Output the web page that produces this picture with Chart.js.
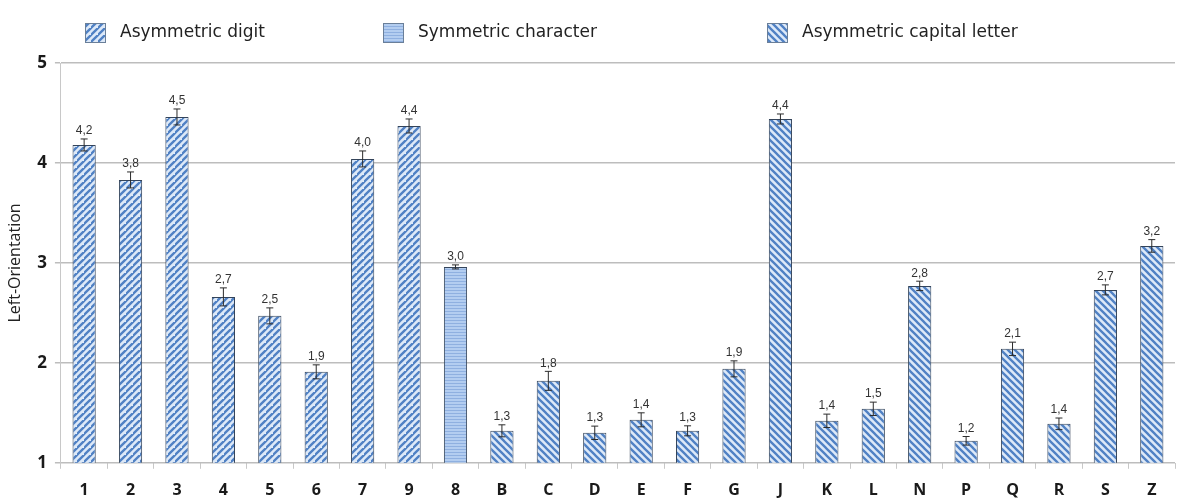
<!DOCTYPE html>
<html>
<head>
<meta charset="utf-8">
<script src="https://cdn.jsdelivr.net/npm/chart.js@4.4.1/dist/chart.umd.min.js"></script>
<style>
  html, body { margin: 0; padding: 0; background: #ffffff; }
  #wrap { width: 1180px; height: 504px; position: relative; }
</style>
</head>
<body>
<div id="wrap"><canvas id="c" width="1180" height="504"></canvas></div>
<script>
// ---- data ----
const categories = ['1','2','3','4','5','6','7','9','8','B','C','D','E','F','G','J','K','L','N','P','Q','R','S','Z'];
const values     = [4.18,3.83,4.46,2.66,2.47,1.91,4.04,4.37,2.96,1.32,1.82,1.30,1.43,1.32,1.94,4.44,1.42,1.54,2.77,1.22,2.14,1.39,2.73,3.17];
const errors     = [0.06,0.08,0.08,0.09,0.08,0.07,0.08,0.07,0.02,0.06,0.095,0.067,0.07,0.05,0.08,0.05,0.067,0.067,0.047,0.043,0.067,0.058,0.05,0.063];
// group index: 0 = asymmetric digit, 1 = symmetric character, 2 = asymmetric capital letter
const groups     = [0,0,0,0,0,0,0,0,1,2,2,2,2,2,2,2,2,2,2,2,2,2,2,2];
const groupNames = ['Asymmetric digit','Symmetric character','Asymmetric capital letter'];
const yTicks     = [1,2,3,4,5];

// ---- patterns ----
function makeDiag(dir) {
  const s = 7;
  const c = document.createElement('canvas');
  c.width = s; c.height = s;
  const g = c.getContext('2d');
  g.fillStyle = '#dde9f8';
  g.fillRect(0,0,s,s);
  g.strokeStyle = '#5081c4';
  g.lineWidth = 2.3;
  g.beginPath();
  if (dir > 0) {
    g.moveTo(-1, s+1); g.lineTo(s+1, -1);
    g.moveTo(-s-1, s+1); g.lineTo(1, -1);
    g.moveTo(s-1, 2*s+1); g.lineTo(2*s+1, s-1);
  } else {
    g.moveTo(-1, -1); g.lineTo(s+1, s+1);
    g.moveTo(-s-1, -1); g.lineTo(1, s+1);
    g.moveTo(s-1, -1); g.lineTo(2*s+1, s+1);
  }
  g.stroke();
  return g.createPattern(c, 'repeat');
}
function makeHoriz() {
  const c = document.createElement('canvas');
  c.width = 4; c.height = 3;
  const g = c.getContext('2d');
  g.fillStyle = '#b3cdf0';
  g.fillRect(0,0,4,3);
  g.fillStyle = '#8fb0e0';
  g.fillRect(0,2,4,1);
  return g.createPattern(c, 'repeat');
}
const ctx = document.getElementById('c').getContext('2d');
const groupFills = [makeDiag(1), makeHoriz(), makeDiag(-1)];

// legend entry placement (box left edges)
const legendBoxX = [85, 383, 767];

const legendPlugin = {
  id: 'customLegend',
  afterDraw(chart) {
    const g = chart.ctx;
    g.save();
    groupNames.forEach((n, i) => {
      const bx = legendBoxX[i], by = 23, bw = 21, bh = 20;
      g.fillStyle = groupFills[i];
      g.fillRect(bx, by, bw, bh);
      g.strokeStyle = '#6a7f99';
      g.lineWidth = 1;
      g.strokeRect(bx + 0.5, by + 0.5, bw - 1, bh - 1);
      g.fillStyle = '#222222';
      g.font = '17px "DejaVu Sans", sans-serif';
      g.textAlign = 'left';
      g.textBaseline = 'middle';
      g.fillText(n, bx + 35, by + bh / 2);
    });
    g.restore();
  }
};

const errorBarPlugin = {
  id: 'errbars',
  afterDatasetsDraw(chart) {
    const g = chart.ctx;
    const meta = chart.getDatasetMeta(0);
    const y = chart.scales.y;
    g.save();
    meta.data.forEach((bar, i) => {
      const v = values[i], e = errors[i];
      const yt = y.getPixelForValue(v + e);
      const yb = y.getPixelForValue(v - e);
      const x = bar.x;
      g.strokeStyle = '#2b2b2b';
      g.lineWidth = 1;
      g.beginPath();
      g.moveTo(x, yt); g.lineTo(x, yb);
      g.moveTo(x - 3.5, yt); g.lineTo(x + 3.5, yt);
      g.moveTo(x - 3.5, yb); g.lineTo(x + 3.5, yb);
      g.stroke();
      g.fillStyle = '#333333';
      g.font = '12px "Liberation Sans", Arial, sans-serif';
      g.textAlign = 'center';
      g.textBaseline = 'bottom';
      g.fillText(v.toFixed(1).replace('.', ','), x, yt - 2);
    });
    g.restore();
  }
};

new Chart(ctx, {
  type: 'bar',
  data: {
    labels: categories,
    datasets: [{
      data: values,
      backgroundColor: groups.map(gi => groupFills[gi]),
      borderColor: '#34445a',
      borderWidth: 1,
      barPercentage: 0.5,
      categoryPercentage: 1.0
    }]
  },
  options: {
    responsive: false,
    animation: false,
    layout: { padding: { left: 2, right: 5, top: 63, bottom: -8 } },
    plugins: {
      tooltip: { enabled: false },
      legend: { display: false }
    },
    scales: {
      x: {
        grid: { display: true, drawOnChartArea: false, offset: true, tickLength: 6, color: '#c8c8c8' },
        border: { display: false },
        ticks: { color: '#1a1a1a', font: { family: '"Open Sans", sans-serif', size: 16, weight: 'bold' }, padding: 12, maxRotation: 0 }
      },
      y: {
        min: 1, max: 5,
        afterBuildTicks(axis) { axis.ticks = yTicks.map(v => ({ value: v })); },
        grid: { color: '#bdbdbd', lineWidth: 1.5, tickLength: 6 },
        border: { display: true, color: '#c8c8c8' },
        ticks: { color: '#1a1a1a', font: { family: '"Open Sans", sans-serif', size: 17, weight: 'bold' }, padding: 8 },
        title: { display: true, text: 'Left-Orientation', color: '#222222', font: { family: '"Open Sans", sans-serif', size: 16 }, padding: { bottom: 4 } }
      }
    }
  },
  plugins: [errorBarPlugin, legendPlugin]
});
</script>
</body>
</html>
